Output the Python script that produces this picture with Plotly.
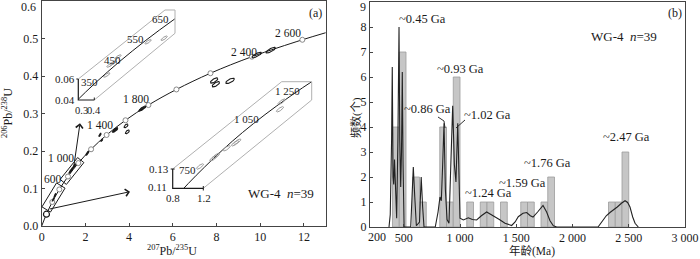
import numpy as np
import plotly.graph_objects as go

W, H = 700, 259

# ---------------- data: panel (a) concordia ----------------
conc_age = [0, 200, 400, 600, 800, 1000, 1200, 1400, 1600, 1800, 2000, 2200, 2400, 2600, 2680]
conc_x = [0, 0.218, 0.483, 0.807, 1.203, 1.677, 2.260, 2.969, 3.833, 4.884, 6.164, 7.722, 9.619, 11.927, 13.0]
conc_y = [0, 0.0315, 0.0640, 0.0975, 0.1320, 0.1678, 0.2046, 0.2427, 0.2820, 0.3225, 0.3641, 0.4074, 0.4515, 0.4966, 0.5155]

# analyses (main plot): centre, half-widths, correlation, filled?
ell_x = [9.84, 10.48, 7.89, 7.97, 8.62, 4.62, 4.56, 3.36, 3.86, 3.92, 2.67, 2.09, 2.75, 1.37, 1.49, 1.30, 0.53, 0.61]
ell_y = [0.456, 0.469, 0.388, 0.378, 0.387, 0.314, 0.311, 0.256, 0.267, 0.251, 0.243, 0.194, 0.229, 0.150, 0.160, 0.145, 0.071, 0.082]
ell_sx = [0.22, 0.22, 0.17, 0.17, 0.20, 0.15, 0.12, 0.12, 0.09, 0.09, 0.05, 0.06, 0.04, 0.06, 0.06, 0.05, 0.04, 0.04]
ell_sy = [0.0075, 0.0075, 0.007, 0.007, 0.007, 0.006, 0.005, 0.006, 0.005, 0.005, 0.004, 0.005, 0.003, 0.005, 0.005, 0.004, 0.004, 0.004]
ell_rho = [0.8, 0.8, 0.7, 0.7, 0.7, 0.85, 0.85, 0.8, 0.6, 0.6, 0.8, 0.85, 0.8, 0.85, 0.85, 0.85, 0.85, 0.85]
ell_fill = [0, 0, 0, 0, 0, 0, 0, 1, 0, 0, 1, 1, 1, 1, 1, 1, 1, 1]

# inset 1 (350-650 Ma) analyses
in1_x = [0.4775, 0.498, 0.517, 0.548, 0.736, 0.836]
in1_y = [0.0615, 0.0695, 0.0711, 0.0759, 0.0881, 0.0909]
# inset 2 (750-1250 Ma) analyses
in2_x = [1.146, 1.3125, 1.346, 1.48, 1.584, 1.6125, 2.1675, 2.146]
in2_y = [0.1326, 0.1411, 0.1435, 0.1515, 0.1566, 0.1583, 0.1998, 0.1919]

# ---------------- data: panel (b) histogram + KDE ----------------
bin_left = [400, 460, 580, 640, 820, 880, 940, 1060, 1180, 1240, 1360, 1540, 1600, 1720, 1780, 2320, 2380, 2440]
bin_count = [4, 7, 2, 1, 4, 1, 6, 1, 1, 1, 1, 1, 1, 1, 2, 1, 1, 3]
bin_width = 60

kde_age = [369, 380, 392, 398, 405, 411, 418, 428, 437, 448, 458, 465, 473, 480, 487, 494, 503,
           562, 573, 585, 598, 612, 640, 655, 668, 680,
           780, 805, 822, 834, 846, 858, 870, 885, 902, 918, 935, 950, 964, 980, 990, 1000,
           1030, 1074, 1110, 1148, 1190, 1237, 1275, 1311, 1350, 1400, 1459, 1490, 1518, 1560,
           1593, 1625, 1649, 1690, 1738, 1770, 1800, 1830, 1860,
           2227, 2260, 2300, 2333, 2365, 2398, 2435, 2467, 2490, 2511, 2535, 2556, 2585]
kde_val = [0, 0.5, 3.5, 6.4, 2.0, 1.7, 2.7, 1.0, 0.35, 3.5, 8.0, 3.5, 1.6, 3.0, 6.2, 2.5, 0,
           0, 1.2, 2.4, 1.2, 0.05, 0.2, 2.0, 0.8, 0,
           0, 0.6, 1.2, 1.05, 2.5, 4.15, 1.5, 0.3, 0.15, 2.5, 4.85, 2.5, 1.8, 4.15, 1.5, 0.35,
           0.28, 0.37, 0.3, 0.28, 0.45, 0.6, 0.5, 0.41, 0.3, 0.15, 0.06, 0.2, 0.41, 0.55,
           0.58, 0.45, 0.4, 0.6, 0.86, 0.6, 0.25, 0.05, 0,
           0, 0.2, 0.45, 0.58, 0.68, 0.8, 0.95, 1.05, 0.98, 0.8, 0.4, 0.15, 0]

b_tickvals = [200, 500, 1000, 1500, 2000, 2500, 3000]
b_ticktext = ["200", "500", "1 000", "1 500", "2 000", "2 500", "3 000"]
peak_labels = ["~0.45 Ga", "~0.86 Ga", "~0.93 Ga", "~1.02 Ga", "~1.24 Ga", "~1.59 Ga", "~1.76 Ga", "~2.47 Ga"]
age_labels_a = ["600", "1 000", "1 400", "1 800", "2 400", "2 600"]

SERIF = "Liberation Serif, Times New Roman, serif"
CJK = "Liberation Serif, Noto Sans CJK SC, sans-serif"
INK = "#1a1a1a"


def P(px, py):
    return px / W, 1 - py / H


def ellipse(cx, cy, sx, sy, rho, n=48):
    t = np.linspace(0, 2 * np.pi, n)
    x = cx + sx * np.cos(t)
    y = cy + sy * (rho * np.cos(t) + np.sqrt(1 - rho ** 2) * np.sin(t))
    return list(x), list(y)


def ell_group(xs, ys, sxs, sys_, rhos):
    X, Y = [], []
    for cx, cy, sx, sy, r in zip(xs, ys, sxs, sys_, rhos):
        ex, ey = ellipse(cx, cy, sx, sy, r)
        X += ex + [None]
        Y += ey + [None]
    return X, Y


fig = go.Figure()

# ---- panel (a) main ----
fig.add_trace(go.Scatter(x=conc_x, y=conc_y, mode="lines", line=dict(color=INK, width=1, shape="spline"),
                         xaxis="x", yaxis="y", hoverinfo="skip", showlegend=False))
fig.add_trace(go.Scatter(x=conc_x[1:-1], y=conc_y[1:-1], mode="markers",
                         marker=dict(symbol="circle", size=5, color="white", line=dict(color="#888", width=1)),
                         xaxis="x", yaxis="y", showlegend=False, hoverinfo="skip"))
fig.add_trace(go.Scatter(x=[conc_x[1]], y=[conc_y[1]], mode="markers",
                         marker=dict(symbol="circle", size=6, color="white", line=dict(color=INK, width=1.2)),
                         xaxis="x", yaxis="y", showlegend=False, hoverinfo="skip"))

for filled in (0, 1):
    idx = [i for i, f in enumerate(ell_fill) if f == filled]
    X, Y = ell_group([ell_x[i] for i in idx], [ell_y[i] for i in idx], [ell_sx[i] for i in idx],
                     [ell_sy[i] for i in idx], [ell_rho[i] for i in idx])
    fig.add_trace(go.Scatter(x=X, y=Y, mode="lines", line=dict(color=INK, width=1.3 if filled else 1.1),
                             fill="toself" if filled else None, fillcolor=INK,
                             xaxis="x", yaxis="y", showlegend=False, hoverinfo="skip"))

# ---- inset 1 ----
fig.add_trace(go.Scatter(x=conc_x, y=conc_y, mode="lines", line=dict(color=INK, width=1, shape="spline"),
                         xaxis="x3", yaxis="y3", hoverinfo="skip", showlegend=False))
X, Y = ell_group(in1_x, in1_y, [0.02] * len(in1_x), [0.0018] * len(in1_x), [0.8] * len(in1_x))
fig.add_trace(go.Scatter(x=X, y=Y, mode="lines", line=dict(color="#9a9a9a", width=1),
                         xaxis="x3", yaxis="y3", hoverinfo="skip", showlegend=False))

# ---- inset 2 ----
fig.add_trace(go.Scatter(x=conc_x, y=conc_y, mode="lines", line=dict(color=INK, width=1, shape="spline"),
                         xaxis="x4", yaxis="y4", hoverinfo="skip", showlegend=False))
X, Y = ell_group(in2_x, in2_y, [0.045] * len(in2_x), [0.0028] * len(in2_x), [0.8] * len(in2_x))
fig.add_trace(go.Scatter(x=X, y=Y, mode="lines", line=dict(color="#9a9a9a", width=1),
                         xaxis="x4", yaxis="y4", hoverinfo="skip", showlegend=False))

# ---- panel (b) ----
fig.add_trace(go.Bar(x=bin_left, y=bin_count, width=bin_width, offset=0,
                     marker=dict(color="#c6c6c6", line=dict(color="#9c9c9c", width=0.8)),
                     xaxis="x2", yaxis="y2", showlegend=False, hoverinfo="skip"))
fig.add_trace(go.Scatter(x=kde_age, y=kde_val, mode="lines", line=dict(color="#222", width=1.1),
                         xaxis="x2", yaxis="y2", showlegend=False, hoverinfo="skip"))

# ---------------- layout ----------------
def dom(px0, px1):
    return [px0 / W, px1 / W]


def vdom(py_bottom, py_top):
    return [1 - py_bottom / H, 1 - py_top / H]


axis_common = dict(showgrid=False, zeroline=False, showline=True, mirror=True, linecolor="#444", linewidth=1,
                   ticks="inside", ticklen=3, tickcolor="#444", automargin=False,
                   tickfont=dict(family=SERIF, size=12, color=INK))

fig.update_layout(
    width=W, height=H, margin=dict(l=0, r=0, t=0, b=0, pad=0), autosize=False,
    paper_bgcolor="white", plot_bgcolor="rgba(0,0,0,0)", showlegend=False, bargap=0,
    xaxis=dict(domain=dom(41.7, 325.8), range=[0, 13], anchor="y", tickvals=[0, 2, 4, 6, 8, 10, 12], **axis_common),
    yaxis=dict(domain=vdom(226, 1), range=[0, 0.6], anchor="x", tickvals=[0, 0.1, 0.2, 0.3, 0.4, 0.5],
               tickformat=".1f", **axis_common),
    xaxis2=dict(domain=dom(370, 685), range=[200, 3000], anchor="y2", tickvals=b_tickvals[1:],
                ticktext=b_ticktext[1:], **axis_common),
    yaxis2=dict(domain=vdom(227, 2), range=[0, 9], anchor="x2", tickvals=list(range(0, 9)), **axis_common),
    xaxis3=dict(domain=dom(78.3, 175), range=[0.3, 0.904], anchor="y3", visible=False, automargin=False),
    yaxis3=dict(domain=vdom(100, 10), range=[0.0415, 0.1135], anchor="x3", visible=False, automargin=False),
    xaxis4=dict(domain=dom(172.3, 311.7), range=[0.8, 2.5425], anchor="y4", visible=False, automargin=False),
    yaxis4=dict(domain=vdom(188.3, 81.7), range=[0.11, 0.2205], anchor="x4", visible=False, automargin=False),
)

shapes = []


def path_px(pts, color, width, closed=False):
    s = ""
    for i, (px, py) in enumerate(pts):
        x, y = P(px, py)
        s += ("M" if i == 0 else "L") + f"{x:.5f},{y:.5f} "
    if closed:
        s += "Z"
    shapes.append(dict(type="path", xref="paper", yref="paper", path=s, line=dict(color=color, width=width)))


# inset frames (gray) and mini axes (black)
path_px([(78.3, 79), (165, 10), (175, 10), (175, 33.3), (94.3, 100)], "#b0b0b0", 1)
path_px([(78.3, 79), (78.3, 100), (94.3, 100)], INK, 1.2)
path_px([(76.3, 79), (78.3, 79)], INK, 1)
path_px([(94.3, 97.5), (94.3, 100)], INK, 1)
path_px([(172.7, 169), (281.7, 81.7), (311.7, 81.7), (311.7, 100), (203.3, 188.3)], "#b0b0b0", 1)
path_px([(172.7, 169), (172.7, 188.3), (203.3, 188.3)], INK, 1.2)
path_px([(170.7, 169), (174.7, 169)], INK, 1)
path_px([(203.3, 186), (203.3, 190.5)], INK, 1)


def rot_box(cx, cy, length, width, dx, dy):
    n = np.hypot(dx, dy)
    ux, uy = dx / n, dy / n
    vx, vy = -uy, ux
    hl, hw = length / 2, width / 2
    pts = [(cx + sx * hl * ux + sw * hw * vx, cy + sx * hl * uy + sw * hw * vy)
           for sx, sw in [(-1, -1), (1, -1), (1, 1), (-1, 1)]]
    path_px(pts, INK, 1, closed=True)


rot_box(53.5, 197.5, 28, 10, 1, -1.64)
rot_box(72.0, 171.0, 28, 8, 1, -1.25)

# leader lines in (b)
path_px([(438, 117), (444, 121), (445, 128)], INK, 0.9)
path_px([(456, 128), (465, 120)], INK, 0.9)

fig.update_layout(shapes=shapes)

ann = []


def txt(px, py, text, size=12, family=SERIF, angle=0, color=INK):
    x, y = P(px, py)
    ann.append(dict(x=x, y=y, xref="paper", yref="paper", text=text, showarrow=False, textangle=angle,
                    font=dict(family=family, size=size, color=color), xanchor="center", yanchor="middle"))


def arrow(hx, hy, tx, ty):
    x, y = P(hx, hy)
    ann.append(dict(x=x, y=y, xref="paper", yref="paper", ax=tx - hx, ay=ty - hy, text="", showarrow=True,
                    arrowhead=4, arrowsize=1.4, arrowwidth=1, arrowcolor=INK))


arrow(130, 191.7, 48.3, 209.3)
arrow(80, 123.3, 73.3, 170)

# panel (a) texts
txt(29, 7, "0.6")
for (px, py), t in zip([(53, 179), (61, 158), (100, 125), (136, 99), (244, 52), (288, 33)], age_labels_a):
    txt(px, py, t, size=11.5)
txt(315, 13, "(a)", size=12)
txt(281, 193, "WG-4\u00a0\u00a0<i>n</i>=39", size=13)
# inset labels
txt(160, 19, "650", 11)
txt(135, 39, "550", 11)
txt(112.5, 60, "450", 11)
txt(89, 82, "350", 11)
txt(65, 79, "0.06", 11)
txt(65, 100, "0.04", 11)
txt(81, 110, "0.3", 10.5)
txt(94, 110, "0.4", 10.5)
txt(159, 169, "0.13", 11)
txt(157, 187, "0.11", 11)
txt(173, 198, "0.8", 11)
txt(204, 198, "1.2", 11)
txt(187, 170, "750", 11)
txt(246, 119, "1 050", 11)
txt(287, 91, "1 250", 11)
# axis titles (a)
txt(172, 250, "<sup>207</sup>Pb/<sup>235</sup>U", 12)
txt(7, 113, "<sup>206</sup>Pb/<sup>238</sup>U", 12, angle=-90)

# panel (b) texts
txt(363, 7, "9")
txt(377, 237, b_ticktext[0])
for (px, py), t in zip([(422, 19), (427, 109), (460, 69), (487, 115), (488, 193), (522, 183), (547, 163), (626, 137)],
                       peak_labels):
    txt(px, py, t, size=12.5)
txt(624, 37, "WG-4\u00a0\u00a0<i>n</i>=39", size=13)
txt(675, 13, "(b)", size=12)
txt(532, 251, "年龄(Ma)", 11.5, family=CJK)
txt(356, 118, "频数(个)", 11, family=CJK, angle=-90)

fig.update_layout(annotations=ann)

fig.write_html("out.html", config={"displayModeBar": False, "staticPlot": True},
               post_script="document.body.style.margin='0';document.body.style.padding='0';document.body.style.overflow='hidden';")
